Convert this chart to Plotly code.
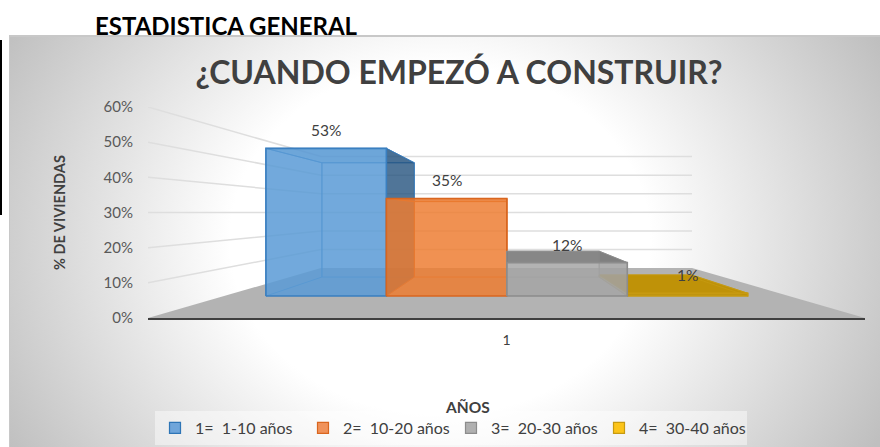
import base64
import plotly.graph_objects as go

# ---- data ----
categories = ["1=  1-10 años", "2=  10-20 años", "3=  20-30 años", "4=  30-40 años"]
values = [53, 35, 12, 1]
value_labels = ["53%", "35%", "12%", "1%"]
y_ticks = [0, 10, 20, 30, 40, 50, 60]
x_tick_labels = ["1"]

# ---- style ----
FONT = "Lato, 'Open Sans', sans-serif"
front_fill = ["rgba(91,155,213,.84)", "rgba(237,125,49,.82)", "rgba(165,165,165,.82)", "rgba(191,144,0,.9)"]
edge = ["#3a7fc0", "#d9661f", "#8c8c8c", "#c79a10"]
side_fill = ["rgba(31,78,121,.76)", "rgba(150,70,20,.2)", "rgba(110,110,110,.28)", "rgba(191,144,0,.2)"]
top_fill = ["rgba(46,117,182,.25)", "rgba(190,90,30,.4)", "rgba(125,125,125,.92)", "rgba(191,144,0,.95)"]
inner_fill = ["rgba(91,155,213,.12)", "rgba(237,125,49,.12)", "rgba(165,165,165,.12)", "rgba(255,192,0,.12)"]
legend_fill = ["#6fa5da", "#f0925a", "#b0b0b0", "#fcc419"]
legend_edge = ["#2e75b6", "#d9661f", "#8c8c8c", "#c79a10"]

# ---- pixel layout of the plot area ----
PX_L, PX_R, PX_T, PX_B = 148, 865, 107, 318
FIG_W, FIG_H = 880, 447


def px(x):
    return (x - PX_L) / (PX_R - PX_L)


def py(y):
    return (PX_B - y) / (PX_B - PX_T)


# ---- perspective: u across floor 0..1, t depth 0..1, v height in % ----
SHRINK_X, SHRINK_Y, FLOOR_RISE = 0.4826, 0.4717, 14.2
T_FRONT, T_BACK = 0.44, 0.82
U_START, U_STEP = 0.074, 0.2133


def project(u, t, v):
    return 0.5 + (u - 0.5) * (1 - SHRINK_X * t), FLOOR_RISE * t + v * (1 - SHRINK_Y * t)


def poly(points):
    pts = [project(*p) for p in points]
    pts.append(pts[0])
    return [p[0] for p in pts], [p[1] for p in pts]


fig = go.Figure()


def face(points, fill, line="rgba(0,0,0,0)", width=1.0):
    xs, ys = poly(points)
    fig.add_trace(go.Scatter(x=xs, y=ys, mode="lines", fill="toself", fillcolor=fill,
                             line=dict(color=line, width=width), showlegend=False, hoverinfo="skip"))


# floor
face([(0, 0, 0), (1, 0, 0), (1, 1, 0), (0, 1, 0)], "#b3b3b3")

# walls' gridlines
for v in y_ticks[1:]:
    xs, ys = zip(*[project(0, 0, v), project(0, 1, v), project(1, 1, v)])
    fig.add_trace(go.Scatter(x=xs, y=ys, mode="lines", line=dict(color="#dedede", width=1.5),
                             showlegend=False, hoverinfo="skip"))

# bars
for i in [3, 0, 1, 2]:
    v = values[i]
    a, b = U_START + i * U_STEP, U_START + (i + 1) * U_STEP
    f, k = T_FRONT, T_BACK
    soft = edge[i]
    face([(a, k, 0), (b, k, 0), (b, k, v), (a, k, v)], inner_fill[i], soft, 0.8)
    face([(a, f, 0), (a, k, 0), (a, k, v), (a, f, v)], inner_fill[i], soft, 0.8)
    face([(a, f, 0), (b, f, 0), (b, k, 0), (a, k, 0)], inner_fill[i])
    face([(a, f, v), (b, f, v), (b, k, v), (a, k, v)], top_fill[i], soft, 0.8)
    face([(b, f, 0), (b, k, 0), (b, k, v), (b, f, v)], side_fill[i], soft, 0.8)
    face([(a, f, 0), (b, f, 0), (b, f, v), (a, f, v)], front_fill[i], edge[i], 1.6)

# legend entries
for i, name in enumerate(categories):
    fig.add_trace(go.Scatter(x=[None], y=[None], mode="markers", name=name,
                             marker=dict(symbol="square", size=11, color=legend_fill[i],
                                         line=dict(color=legend_edge[i], width=1.2))))

# data labels
annotations = []
for i, lab in enumerate(value_labels):
    xc, yc = project(U_START + (i + 0.5) * U_STEP, T_FRONT, values[i])
    annotations.append(dict(x=xc, y=yc, xref="x", yref="y", text=lab, showarrow=False, yshift=18,
                            xanchor="center", yanchor="middle",
                            font=dict(family=FONT, size=15.5, color="#404040")))

annotations.append(dict(x=px(226), y=py(26), xref="paper", yref="paper", text="<b>ESTADISTICA GENERAL</b>",
                        showarrow=False, xanchor="center", yanchor="middle",
                        font=dict(family=FONT, size=24, color="#000000")))
annotations.append(dict(x=px(467), y=py(407), xref="paper", yref="paper", text="<b>AÑOS</b>",
                        showarrow=False, xanchor="center", yanchor="middle",
                        font=dict(family=FONT, size=15.5, color="#404040")))

# page background (white page, black sliver, gradient chart area)
svg = f'''<svg xmlns="http://www.w3.org/2000/svg" width="{FIG_W}" height="{FIG_H}" viewBox="0 0 {FIG_W} {FIG_H}">
<defs><radialGradient id="g" gradientUnits="userSpaceOnUse" cx="0" cy="0" r="500"
 gradientTransform="translate(440 240) scale(1 0.833)">
<stop offset="0.42" stop-color="#ffffff"/><stop offset="1" stop-color="#bfbfbf"/></radialGradient></defs>
<rect width="{FIG_W}" height="{FIG_H}" fill="#ffffff"/>
<rect x="0" y="40" width="2" height="175" fill="#000000"/>
<rect x="9" y="35" width="871" height="412" fill="#c8c8c8"/>
<rect x="10" y="37" width="870" height="410" fill="url(#g)"/>
</svg>'''
bg = "data:image/svg+xml;base64," + base64.b64encode(svg.encode()).decode()

fig.update_layout(
    width=FIG_W, height=FIG_H,
    margin=dict(l=PX_L, r=FIG_W - PX_R, t=PX_T, b=FIG_H - PX_B, autoexpand=False),
    paper_bgcolor="#ffffff", plot_bgcolor="rgba(0,0,0,0)",
    title=dict(text="<b>¿CUANDO EMPEZÓ A CONSTRUIR?</b>", x=459 / FIG_W, xanchor="center", xref="container",
               y=1 - 73 / FIG_H, yanchor="middle", yref="container",
               font=dict(family=FONT, size=32, color="#404040")),
    images=[dict(source=bg, xref="paper", yref="paper", x=px(0), y=py(0), sizex=FIG_W / (PX_R - PX_L),
                 sizey=FIG_H / (PX_B - PX_T), xanchor="left", yanchor="top", sizing="stretch", layer="below")],
    xaxis=dict(range=[0, 1], showgrid=False, zeroline=False, showline=True, linecolor="#404040", linewidth=2,
               tickmode="array", tickvals=[0.5], ticktext=x_tick_labels, ticks="", ticklabelstandoff=8,
               tickfont=dict(family=FONT, size=14, color="#404040")),
    yaxis=dict(range=[0, 60], showgrid=False, zeroline=False, showline=False, tickmode="array", tickvals=y_ticks,
               ticktext=[f"{v}%" for v in y_ticks], ticks="", ticklabelstandoff=14,
               tickfont=dict(family=FONT, size=15, color="#595959"),
               title=dict(text="<b>% DE VIVIENDAS</b>", standoff=34,
                          font=dict(family=FONT, size=14.5, color="#404040"))),
    legend=dict(orientation="h", x=px(155), y=py(411), xanchor="left", yanchor="top",
                bgcolor="rgba(255,255,255,.45)", font=dict(family=FONT, size=16, color="#404040"),
                entrywidth=103, entrywidthmode="pixels", itemclick=False, itemdoubleclick=False),
    annotations=annotations,
    showlegend=True,
)

fig.write_html("out.html", config={"displayModeBar": False},
               post_script="document.body.style.margin='0';document.body.style.overflow='hidden';")
